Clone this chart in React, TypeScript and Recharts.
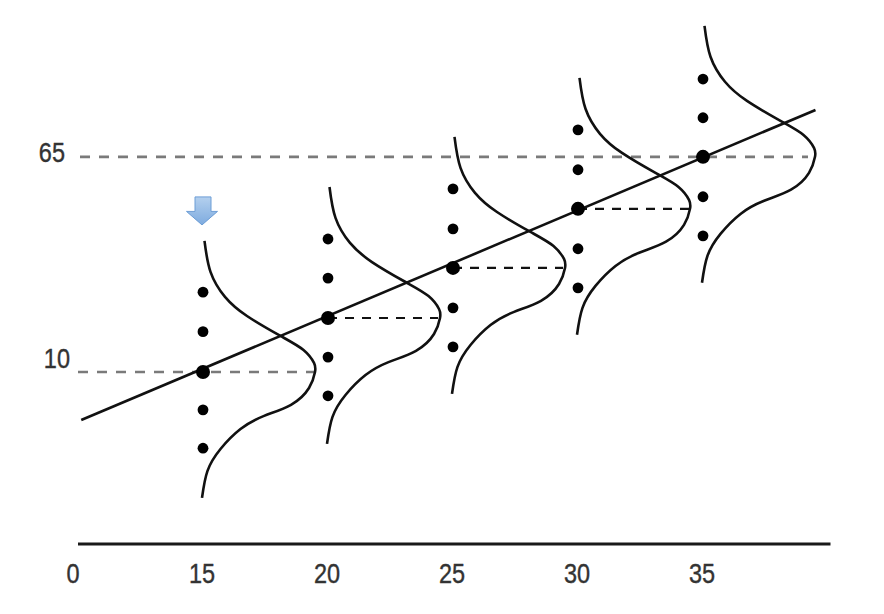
import React from 'react';
import {
  ComposedChart,
  Line,
  Scatter,
  XAxis,
  YAxis,
  ReferenceLine,
} from 'recharts';

// x positions of the five groups and their means
const GROUP_X = [15, 20, 25, 30, 35];
const GROUP_MEAN = [10, 23.8, 36.6, 51.7, 65];

// the other four dots in each column, top to bottom
const GROUP_DOTS = [
  [30.4, 20.3, 0.3, -9.5],
  [44.0, 34.0, 13.8, 3.9],
  [56.8, 46.6, 26.4, 16.4],
  [71.9, 61.7, 41.5, 31.5],
  [84.9, 75.0, 54.8, 44.8],
];

// bell curve outline, relative to (group x, group mean), top to bottom
const CURVE_DX = [0.06, 0.3, 0.88, 1.76, 3.1, 4.02, 4.44, 4.48, 4.24, 3.52, 2.42, 1.5, 0.7, 0.18, -0.04];
const CURVE_DY = [33.5, 25.6, 19.2, 14.3, 9.2, 5.6, 2.3, 0, -4.1, -8.4, -11.3, -14.6, -19.7, -25.3, -32.2];

// fitted line end points
const FIT_X = [10.13, 39.5];
const FIT_Y = [-2.3, 77.0];

// axis ticks
const X_TICKS = [10, 15, 20, 25, 30, 35];
const X_TICK_LABELS = ['0', '15', '20', '25', '30', '35'];

// gray guide lines with a value label on the left
const GUIDE_Y = [65, 10];
const GUIDE_FROM = [10.08, 10];
const GUIDE_TO = [39.2, 19.48];
const GUIDE_LABELS = ['65', '10'];

// short black dashed lines from mean to curve peak
const MEAN_LINE_FROM = [20, 25, 30];
const MEAN_LINE_TO = [24.4, 29.4, 34.48];
const MEAN_LINE_Y = [23.8, 36.6, 51.7];

// blue arrow marker
const ARROW = [{ x: 15, y: 51.05 }];

const FONT = '"Liberation Sans", Arial, sans-serif';

const curves = GROUP_X.map((gx, i) =>
  CURVE_DX.map((dx, j) => ({ x: gx + dx, y: GROUP_MEAN[i] + CURVE_DY[j] }))
);
const dots = GROUP_X.flatMap((gx, i) => GROUP_DOTS[i].map((y) => ({ x: gx, y })));
const means = GROUP_X.map((gx, i) => ({ x: gx, y: GROUP_MEAN[i] }));
const fit = FIT_X.map((x, i) => ({ x, y: FIT_Y[i] }));

// narrow-looking label text (the original uses a condensed face)
const NarrowText = ({ x, y, anchor, children }: any) => (
  <text
    transform={`translate(${x},${y}) scale(0.84,1)`}
    textAnchor={anchor}
    fontFamily={FONT}
    fontSize={28}
    fill="#333"
    stroke="#333"
    strokeWidth={0.4}
  >
    {children}
  </text>
);

const XTick = (props: any) => {
  const { x, y, payload } = props;
  const idx = X_TICKS.indexOf(payload.value);
  return (
    <NarrowText x={x + (payload.value === 10 ? -5 : -1)} y={y + 39} anchor="middle">
      {X_TICK_LABELS[idx]}
    </NarrowText>
  );
};

const GuideLabel = (props: any) => {
  const { viewBox, text, gap, dy } = props;
  if (!viewBox) return null;
  return (
    <NarrowText x={viewBox.x - gap} y={viewBox.y + dy} anchor="end">
      {text}
    </NarrowText>
  );
};

const Dot = (r: number) => (props: any) => (
  <circle cx={props.cx} cy={props.cy} r={r} fill="#000" />
);

const Arrow = (props: any) => {
  const { cx, cy } = props;
  const d = `M${cx - 8},${cy - 14.5} L${cx + 8},${cy - 14.5} L${cx + 8},${cy} L${cx + 14.5},${cy} L${cx - 1},${cy + 13.5} L${cx - 16.5},${cy} L${cx - 8},${cy} Z`;
  return <path d={d} fill="url(#arrowFill)" stroke="#6d9ed6" strokeWidth={1} />;
};

export default function App() {
  return (
    <div style={{ position: 'absolute', left: 0, top: 0, background: '#fff' }}>
      <ComposedChart
        width={884}
        height={614}
        margin={{ top: 20, right: 53.5, left: 78, bottom: 20 }}
      >
        <defs>
          <linearGradient id="arrowFill" x1="0" y1="0" x2="0" y2="1">
            <stop offset="0%" stopColor="#b4d0ee" />
            <stop offset="100%" stopColor="#7eabdf" />
          </linearGradient>
        </defs>
        <XAxis
          type="number"
          dataKey="x"
          domain={[10, 40.1]}
          ticks={X_TICKS}
          allowDataOverflow
          height={50}
          tickSize={0}
          tickMargin={0}
          tickLine={false}
          axisLine={{ stroke: '#1a1a1a', strokeWidth: 2.8 }}
          tick={<XTick />}
        />
        <YAxis type="number" dataKey="y" domain={[-34, 100]} hide width={0} allowDataOverflow />

        {GUIDE_Y.map((y, i) => (
          <ReferenceLine
            key={'g' + i}
            segment={[
              { x: GUIDE_FROM[i], y },
              { x: GUIDE_TO[i], y },
            ]}
            stroke="#7a7a7a"
            strokeWidth={2.6}
            strokeDasharray="10 9"
            label={<GuideLabel text={GUIDE_LABELS[i]} gap={i === 0 ? 15 : 8} dy={i === 0 ? 5 : -4} />}
          />
        ))}
        {MEAN_LINE_Y.map((y, i) => (
          <ReferenceLine
            key={'m' + i}
            segment={[
              { x: MEAN_LINE_FROM[i], y },
              { x: MEAN_LINE_TO[i], y },
            ]}
            stroke="#111"
            strokeWidth={2.2}
            strokeDasharray="9 8"
          />
        ))}

        {curves.map((c, i) => (
          <Line
            key={'c' + i}
            data={c}
            dataKey="y"
            type="natural"
            stroke="#111"
            strokeWidth={2.6}
            dot={false}
            activeDot={false}
            isAnimationActive={false}
          />
        ))}
        <Line
          data={fit}
          dataKey="y"
          type="linear"
          stroke="#111"
          strokeWidth={2.6}
          dot={false}
          activeDot={false}
          isAnimationActive={false}
        />
        <Scatter data={dots} dataKey="y" shape={Dot(5.4)} isAnimationActive={false} />
        <Scatter data={means} dataKey="y" shape={Dot(7)} isAnimationActive={false} />
        <Scatter data={ARROW} dataKey="y" shape={Arrow} isAnimationActive={false} />
      </ComposedChart>
    </div>
  );
}
